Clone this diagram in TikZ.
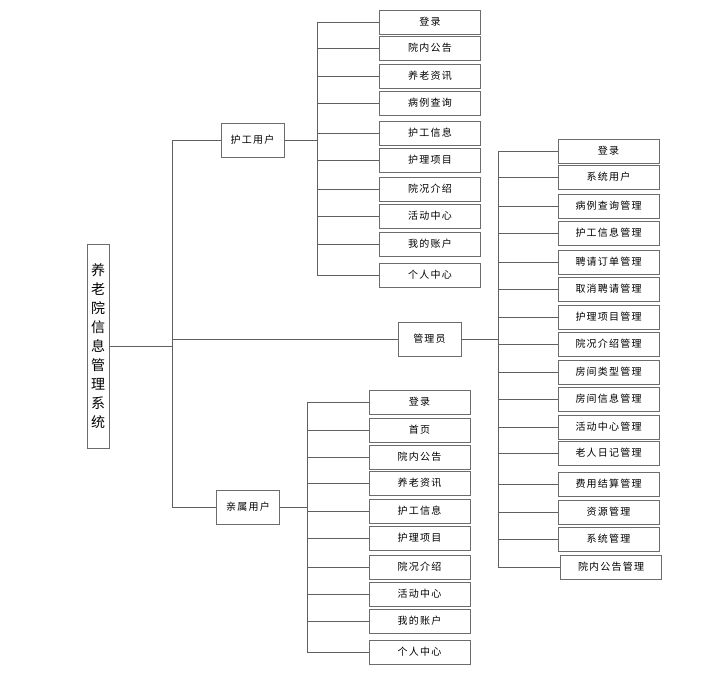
\documentclass[tikz,border=0pt]{standalone}
\usepackage{fontspec}
\setmainfont{Noto Sans CJK SC}[LetterSpace=12]
\begin{document}
\begin{tikzpicture}[x=1pt,y=-1pt,
  box/.style={draw=gray!85!black,line width=0.9pt,fill=white,inner sep=0pt,
    minimum width=101pt,minimum height=24pt,font=\fontsize{10}{12}\selectfont},
  hubbox/.style={box,minimum width=63pt,minimum height=34pt},
  conn/.style={draw=gray!75!black,line width=0.8pt}]
\useasboundingbox (0,0) rectangle (714,672);
% root
\node[draw=gray!85!black,line width=0.9pt,inner sep=0pt,minimum width=22pt,minimum height=204pt,
  font=\fontsize{14}{19}\selectfont,align=center] (root) at (98,346)
  {养\\老\\院\\信\\息\\管\\理\\系\\统};
% hubs
\node[hubbox] (hg) at (252.5,140) {护工用户};
\node[hubbox] (gl) at (429.5,339) {管理员};
\node[hubbox] (qs) at (248,507) {亲属用户};
% main trunk
\coordinate (T) at (172,0);
\draw[conn] (root.east) -- (root.east -| T);
\draw[conn] (hg.west -| T) -- (qs.west -| T);
\draw[conn] (hg.west) -- (hg.west -| T);
\draw[conn] (gl.west) -- (gl.west -| T);
\draw[conn] (qs.west) -- (qs.west -| T);
% nurse leaves
\coordinate (TH) at (317,0);
\foreach \i/\y/\t in {1/22/登录,2/48/院内公告,3/76/养老资讯,4/103/病例查询,5/133/护工信息,
  6/160/护理项目,7/189/院况介绍,8/216/活动中心,9/244/我的账户,10/275/个人中心}{
  \node[box] (h\i) at (430,\y) {\t};
  \draw[conn] (h\i.west) -- (h\i.west -| TH);
}
\draw[conn] (h1.west -| TH) -- (h10.west -| TH);
\draw[conn] (hg.east) -- (hg.east -| TH);
% manager leaves
\coordinate (TM) at (498,0);
\foreach \i/\y/\t in {1/151/登录,2/177/系统用户,3/206/病例查询管理,4/233/护工信息管理,
  5/262/聘请订单管理,6/289/取消聘请管理,7/317/护理项目管理,8/344/院况介绍管理,
  9/372/房间类型管理,10/399/房间信息管理,11/427/活动中心管理,12/453/老人日记管理,
  13/484/费用结算管理,14/512/资源管理,15/539/系统管理}{
  \node[box] (m\i) at (608.5,\y) {\t};
  \draw[conn] (m\i.west) -- (m\i.west -| TM);
}
\node[box] (m16) at (611,567) {院内公告管理};
\draw[conn] (m16.west) -- (m16.west -| TM);
\draw[conn] (m1.west -| TM) -- (m16.west -| TM);
\draw[conn] (gl.east) -- (gl.east -| TM);
% relative leaves
\coordinate (TQ) at (307,0);
\foreach \i/\y/\t in {1/402/登录,2/430/首页,3/457/院内公告,4/483/养老资讯,5/511/护工信息,
  6/538/护理项目,7/567/院况介绍,8/594/活动中心,9/621/我的账户,10/652/个人中心}{
  \node[box] (q\i) at (419.5,\y) {\t};
  \draw[conn] (q\i.west) -- (q\i.west -| TQ);
}
\draw[conn] (q1.west -| TQ) -- (q10.west -| TQ);
\draw[conn] (qs.east) -- (qs.east -| TQ);
\end{tikzpicture}
\end{document}
